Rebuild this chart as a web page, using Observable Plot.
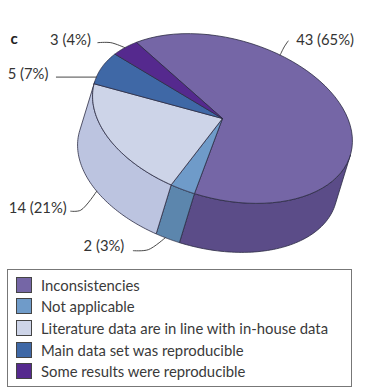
<!DOCTYPE html>
<html>
<head>
<meta charset="utf-8">
<script src="https://cdn.jsdelivr.net/npm/d3@7"></script>
<script src="https://cdn.jsdelivr.net/npm/@observablehq/plot@0.6"></script>
<style>
html,body{margin:0;padding:0;background:#fff;overflow:hidden}
svg{display:block}
#legend{box-sizing:border-box;margin:7px 0 0 7px;width:345px;height:118px;border:1px solid #777;padding:4px 0 0 8px;font:14.85px Lato,sans-serif;color:#3a3a3a}
.row{display:flex;align-items:center;height:21.6px}
.sw{width:14px;height:14px;border:1px solid #444;margin-right:9px;flex:none}
</style>
</head>
<body>
<div id="chart"></div>
<div id="legend"></div>
<script>
const categories = ["Inconsistencies","Not applicable","Literature data are in line with in-house data","Main data set was reproducible","Some results were reproducible"];
const counts = [43,2,14,5,3];
const percents = [65,3,21,7,4];
const topColors = ["#7566a6","#6f9bc9","#cdd4e8","#3f68a6","#55298e"];
const sideColors = ["#5b4c88","#5c86ad","#bcc4e0",null,null];

// Pie model: a tilted ellipse, extruded downward
const A = 133, B = 80, TILT = 15.5 * Math.PI / 180, DX = -15, DY = 49;
const START = 219, VIS0 = 360.9, VIS1 = 540.9;
const rim = (deg, ox = 0, oy = 0) => {
  const t = deg * Math.PI / 180, u = A * Math.cos(t), v = B * Math.sin(t);
  return {x: u * Math.cos(TILT) - v * Math.sin(TILT) + ox, y: u * Math.sin(TILT) + v * Math.cos(TILT) + oy};
};
const arc = (a0, a1, ox, oy) => d3.range(0, 61).map(i => rim(a0 + (a1 - a0) * i / 60, ox, oy));

let acc = START;
const slices = percents.map((p, i) => {
  const a0 = acc, a1 = acc + p * 3.6;
  acc = a1;
  return {i, a0, a1};
});
const marks = [];
// Visible side walls
const wall = (a0, a1, i) => {
  const top = arc(a0, a1, 0, 0), bot = arc(a0, a1, DX, DY).reverse();
  marks.push(Plot.line([...top, ...bot, top[0]], {x: "x", y: "y", fill: sideColors[i], stroke: "#2c2c44", strokeWidth: 0.8}));
};
wall(VIS0, slices[0].a1, 0);
wall(slices[1].a0, slices[1].a1, 1);
wall(slices[2].a0, VIS1, 2);
// Top faces
slices.forEach(s => {
  const pts = [{x: 0, y: 0}, ...arc(s.a0, s.a1, 0, 0), {x: 0, y: 0}];
  marks.push(Plot.line(pts, {x: "x", y: "y", fill: topColors[s.i], stroke: "#2c2c44", strokeWidth: 0.8}));
});
// Value labels with leader lines
const lab = (i, frac, wallOffset, offs, tx, ty, anchor) => {
  const s = slices[i], p = rim(s.a0 + (s.a1 - s.a0) * frac, wallOffset ? DX : 0, wallOffset ? DY : 0);
  const line = [p, ...offs.map(([a, b]) => ({x: p.x + a, y: p.y + b}))];
  marks.push(Plot.line(line, {x: "x", y: "y", stroke: "#333", strokeWidth: 0.9, curve: offs.length > 1 ? "catmull-rom" : "linear"}));
  marks.push(Plot.text([{x: p.x + tx, y: p.y + ty, t: `${counts[i]} (${percents[i]}%)`}], {
    x: "x", y: "y", text: "t", textAnchor: anchor, fontSize: 14.8, fontFamily: "Lato, sans-serif", fill: "#333"
  }));
};
lab(0, 0.29, false, [[4, -8], [8, -14]], 16, -15, "start");
lab(1, 0.6, true, [[-17, 12], [-32, 13]], -41, 9, "end");
lab(2, 0.466, true, [[-16, 19], [-26, 20]], -30, 17, "end");
lab(3, 0.2, false, [[-40, 0]], -48, -3, "end");
lab(4, 0.5, false, [[-14, -5], [-27, -5]], -34, -7, "end");

const plot = Plot.plot({
  width: 365, height: 262, margin: 0,
  x: {domain: [-222, 143], range: [0, 365], axis: null},
  y: {domain: [-118, 144], range: [0, 262], axis: null},
  style: {background: "#fff"},
  marks: [
    ...marks,
    Plot.text(["c"], {frameAnchor: "top-left", dx: 10, dy: 33, fontSize: 15, fontWeight: "bold", fontFamily: "Lato, sans-serif", fill: "#222"})
  ]
});
document.getElementById("chart").append(plot);

const legend = document.getElementById("legend");
categories.forEach((c, i) => {
  const r = document.createElement("div");
  r.className = "row";
  r.innerHTML = `<span class="sw" style="background:${topColors[i]}"></span><span>${c}</span>`;
  legend.append(r);
});
</script>
</body>
</html>
